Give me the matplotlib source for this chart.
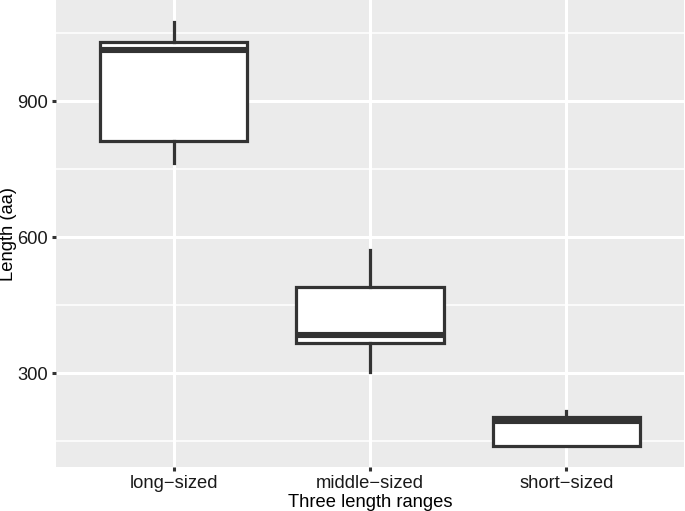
import matplotlib
matplotlib.use("Agg")
import matplotlib.pyplot as plt

categories = ["long\u2212sized", "middle\u2212sized", "short\u2212sized"]
whisker_low = [763, 302, 139]
q1 = [812, 366, 139]
median = [1012, 384, 194]
q3 = [1030, 490, 203]
whisker_high = [1074, 571, 216]

plt.rcParams['font.family'] = ['Liberation Sans', 'DejaVu Sans']

fig = plt.figure(figsize=(6.85, 5.11), dpi=100)
ax = fig.add_axes([56/685, 44/511, 628/685, 467/511])
ax.set_facecolor('#EBEBEB')

stats = []
for i in range(len(categories)):
    stats.append(dict(whislo=whisker_low[i], q1=q1[i], med=median[i],
                      q3=q3[i], whishi=whisker_high[i], fliers=[], label=categories[i]))

dark = '#333333'
positions = list(range(1, len(categories) + 1))
ax.bxp(stats, positions=positions, widths=0.75, patch_artist=True, showcaps=False,
       boxprops=dict(facecolor='white', edgecolor=dark, linewidth=2.3),
       medianprops=dict(color=dark, linewidth=4.4, solid_capstyle='butt'),
       whiskerprops=dict(color=dark, linewidth=2.3), zorder=3)

ax.set_xlim(0.4, 3.6)
ax.set_ylim(93, 1123)
ax.set_yticks([300, 600, 900])
ax.set_yticks([150, 450, 750, 1050], minor=True)
ax.set_xticks(positions)
ax.set_xticklabels(categories)

ax.grid(True, which='major', color='white', linewidth=2.2)
ax.grid(True, which='minor', axis='y', color='white', linewidth=1.1)
ax.set_axisbelow(True)
for s in ax.spines.values():
    s.set_visible(False)

ax.tick_params(axis='both', which='major', length=3, width=2.2, color=dark,
               labelsize=13.2, labelcolor='#1A1A1A', pad=3)
ax.tick_params(axis='y', which='minor', length=0)

ax.set_xlabel("Three length ranges", fontsize=13.2, labelpad=1, color='black')
ax.set_ylabel("Length (aa)", fontsize=13.2, color='black')
ax.yaxis.set_label_coords(-0.062, 0.5)

fig.savefig("out.png", dpi=100)
